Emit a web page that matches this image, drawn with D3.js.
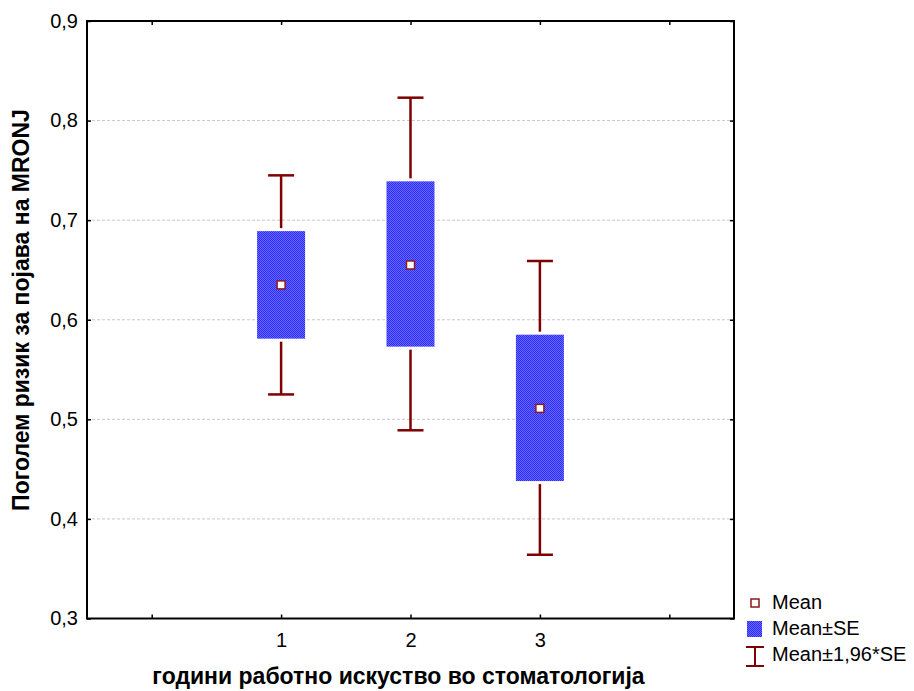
<!DOCTYPE html>
<html>
<head>
<meta charset="utf-8">
<script src="https://cdn.jsdelivr.net/npm/d3@7"></script>
<style>
  html, body { margin: 0; padding: 0; background: #fff; }
  svg text { font-family: Arial, "Liberation Sans", sans-serif; fill: #000; }
</style>
</head>
<body>
<svg id="chart" width="914" height="691"></svg>
<script>
// Groups by years of dental work experience
const categories = [1, 2, 3];
const means   = [0.635, 0.655, 0.511];
const seLow   = [0.581, 0.573, 0.438];
const seHigh  = [0.689, 0.739, 0.585];
const ciLow   = [0.525, 0.489, 0.364];
const ciHigh  = [0.745, 0.823, 0.659];
const yTicks  = [0.3, 0.4, 0.5, 0.6, 0.7, 0.8, 0.9];
const xTicks  = [0, 1, 2, 3, 4];
const legendLabels = ["Mean", "Mean±SE", "Mean±1,96*SE"];

const svg = d3.select("#chart");
const L = 87, R = 734, T = 21, B = 618.5;
const FONT = "Arial, 'Liberation Sans', sans-serif";

const x = d3.scaleLinear().domain([-0.5, 4.5]).range([L, R]);
const y = d3.scaleLinear().domain([0.3, 0.9]).range([B, T]);
const fmt = v => d3.format(".1f")(v).replace(".", ",");

// dithered blue fill for the SE boxes
const defs = svg.append("defs");
const pat = defs.append("pattern").attr("id", "dither")
  .attr("patternUnits", "userSpaceOnUse").attr("width", 2).attr("height", 2);
pat.append("rect").attr("width", 2).attr("height", 2).attr("fill", "#2c2cff");
pat.append("rect").attr("x", 1).attr("y", 0).attr("width", 1).attr("height", 1).attr("fill", "#6868ff");
pat.append("rect").attr("x", 0).attr("y", 1).attr("width", 1).attr("height", 1).attr("fill", "#6868ff");

// horizontal grid
svg.append("g").selectAll("line")
  .data(yTicks.filter(v => v > 0.3 && v < 0.9))
  .join("line")
  .attr("x1", L).attr("x2", R)
  .attr("y1", d => y(d)).attr("y2", d => y(d))
  .attr("stroke", "#c8c8c8").attr("stroke-width", 1)
  .attr("stroke-dasharray", "3,2");

function styleTicks(sel) {
  sel.attr("font-size", 20).attr("font-family", FONT);
  sel.select(".domain").remove();
  sel.selectAll(".tick line").attr("stroke", "#000").attr("stroke-width", 1.5);
  sel.selectAll(".tick text").style("font-size", "20px").style("font-family", FONT);
}

// y axis (left) with inward ticks
const yAxis = d3.axisLeft(y).tickValues(yTicks).tickFormat(fmt).tickSizeInner(-4).tickSizeOuter(0).tickPadding(9);
svg.append("g").attr("transform", `translate(${L},0)`).call(yAxis).call(styleTicks);

// right-side ticks
svg.append("g").attr("transform", `translate(${R},0)`)
  .call(d3.axisRight(y).tickValues(yTicks).tickFormat("").tickSizeInner(-4).tickSizeOuter(0))
  .call(styleTicks);

// x axis (bottom) with inward ticks, labels only for the groups
const xAxis = d3.axisBottom(x).tickValues(xTicks)
  .tickFormat(d => categories.includes(d) ? String(d) : "")
  .tickSizeInner(-4).tickSizeOuter(0).tickPadding(14);
svg.append("g").attr("transform", `translate(0,${B})`).call(xAxis).call(styleTicks);

// top ticks
svg.append("g").attr("transform", `translate(0,${T})`)
  .call(d3.axisTop(x).tickValues(xTicks).tickFormat("").tickSizeInner(-4).tickSizeOuter(0))
  .call(styleTicks);

// frame
svg.append("rect").attr("x", L).attr("y", T).attr("width", R - L).attr("height", B - T)
  .attr("fill", "none").attr("stroke", "#000").attr("stroke-width", 2);

const boxW = 48, capW = 26, whisk = "#7f0000";
const g = svg.append("g");
categories.forEach((c, i) => {
  const cx = x(c);
  // whiskers (Mean ± 1.96*SE)
  g.append("line").attr("x1", cx).attr("x2", cx)
    .attr("y1", y(ciHigh[i])).attr("y2", y(seHigh[i]) - 3)
    .attr("stroke", whisk).attr("stroke-width", 2.5);
  g.append("line").attr("x1", cx).attr("x2", cx)
    .attr("y1", y(seLow[i]) + 3).attr("y2", y(ciLow[i]))
    .attr("stroke", whisk).attr("stroke-width", 2.5);
  [ciHigh[i], ciLow[i]].forEach(v => {
    g.append("line").attr("x1", cx - capW / 2).attr("x2", cx + capW / 2)
      .attr("y1", y(v)).attr("y2", y(v))
      .attr("stroke", whisk).attr("stroke-width", 2.5);
  });
  // SE box
  g.append("rect").attr("x", cx - boxW / 2).attr("width", boxW)
    .attr("y", y(seHigh[i])).attr("height", y(seLow[i]) - y(seHigh[i]))
    .attr("fill", "url(#dither)");
  // mean marker
  g.append("rect").attr("x", cx - 4).attr("y", y(means[i]) - 4)
    .attr("width", 8).attr("height", 8)
    .attr("fill", "#fff").attr("stroke", "#8b1a1a").attr("stroke-width", 1.5);
});

// axis titles
svg.append("text")
  .attr("x", (L + R) / 2 - 12).attr("y", 684)
  .attr("text-anchor", "middle").attr("font-size", 23).attr("font-weight", "bold")
  .text("години работно искуство во стоматологија");
svg.append("text")
  .attr("transform", `translate(29,310) rotate(-90)`)
  .attr("text-anchor", "middle").attr("font-size", 23).attr("font-weight", "bold")
  .text("Поголем ризик за појава на MRONJ");

// legend
const lg = svg.append("g");
lg.append("rect").attr("x", 751).attr("y", 599).attr("width", 8).attr("height", 8)
  .attr("fill", "#fff").attr("stroke", "#8b1a1a").attr("stroke-width", 1.5);
lg.append("rect").attr("x", 747).attr("y", 621).attr("width", 15).attr("height", 16)
  .attr("fill", "url(#dither)");
lg.append("line").attr("x1", 755).attr("x2", 755).attr("y1", 647).attr("y2", 666)
  .attr("stroke", whisk).attr("stroke-width", 2);
lg.append("line").attr("x1", 746).attr("x2", 764).attr("y1", 647).attr("y2", 647)
  .attr("stroke", whisk).attr("stroke-width", 2);
lg.append("line").attr("x1", 746).attr("x2", 764).attr("y1", 666).attr("y2", 666)
  .attr("stroke", whisk).attr("stroke-width", 2);
legendLabels.forEach((t, i) => {
  lg.append("text").attr("x", 772).attr("y", 609 + i * 26)
    .attr("font-size", 20).text(t);
});
</script>
</body>
</html>
